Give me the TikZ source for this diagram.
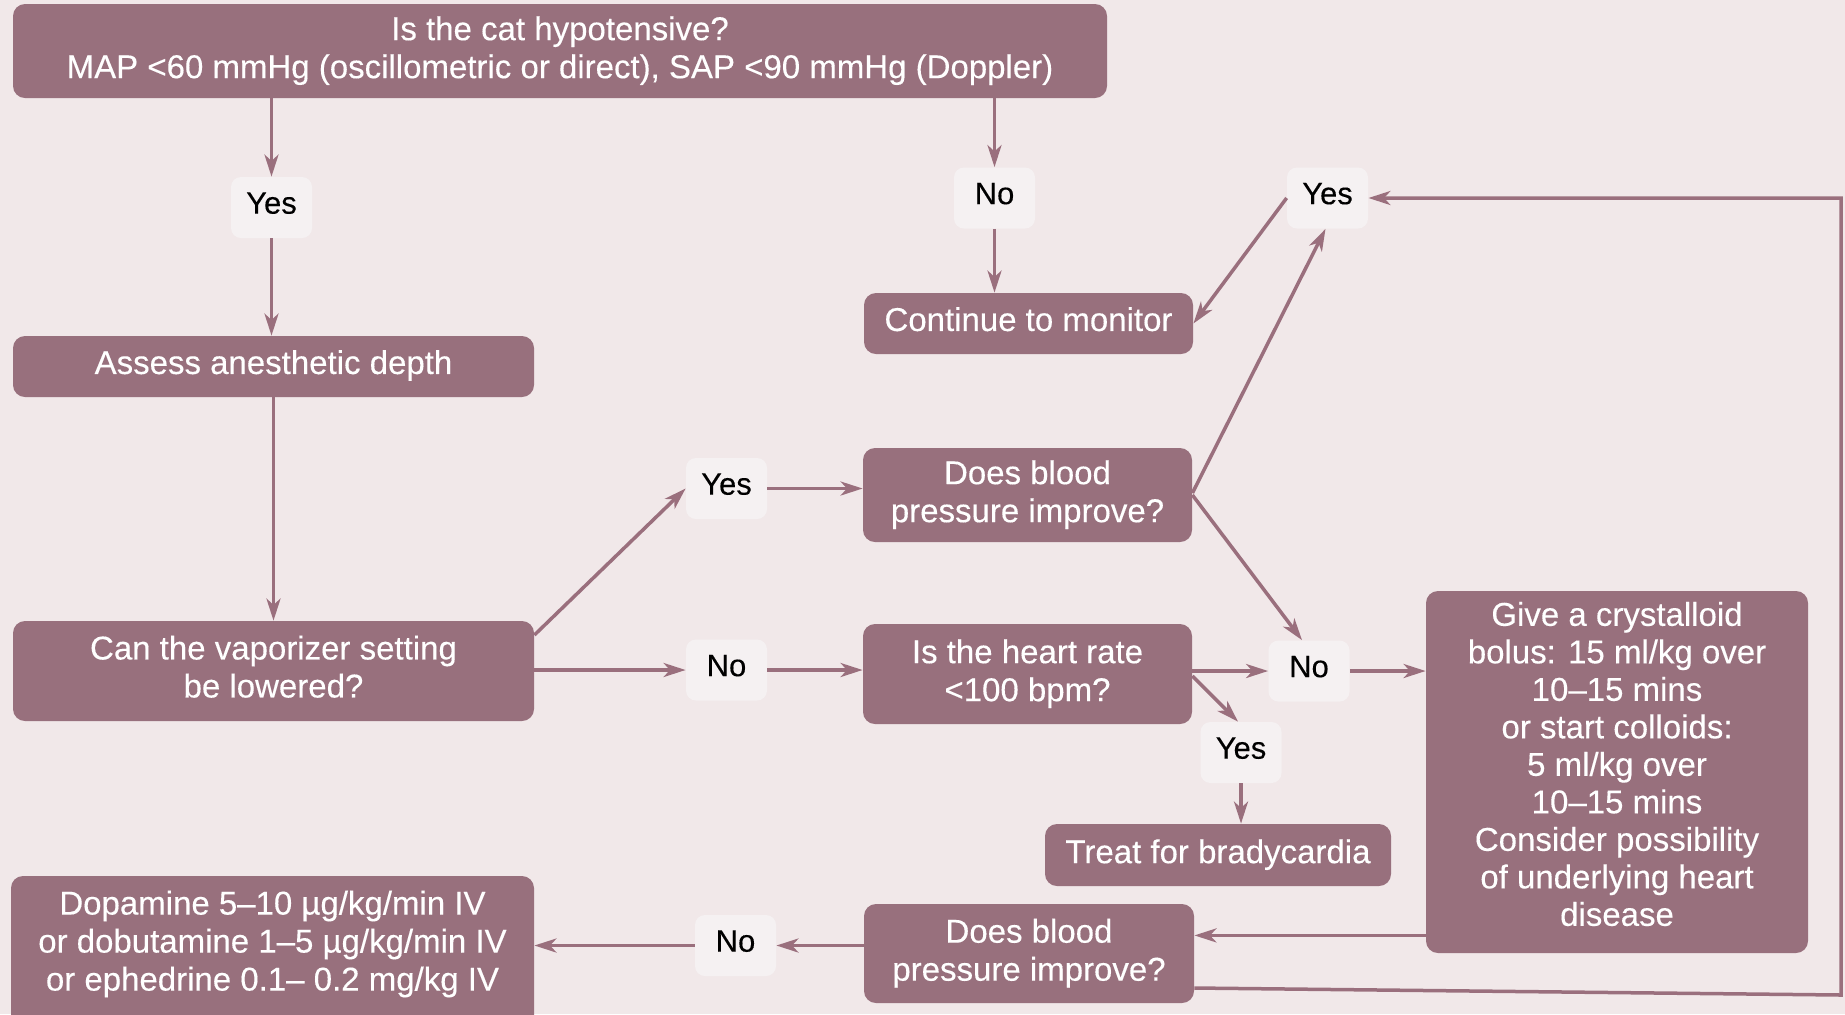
\documentclass[tikz,border=0pt]{standalone}
\usepackage{fontspec}
\newfontfamily\lsans[BoldFont=Liberation Sans, BoldFeatures={FakeBold=0.25}]{Liberation Sans}
\newcommand{\lsf}{\lsans\bfseries}
\usetikzlibrary{arrows.meta,calc}
\definecolor{boxc}{RGB}{152,112,125}
\definecolor{bgc}{RGB}{241,232,233}
\definecolor{labc}{RGB}{245,241,242}
\definecolor{linec}{RGB}{154,111,125}
\begin{document}
\begin{tikzpicture}[x=0.5pt,y=-0.5pt,
  box/.style={fill=boxc, rounded corners=6pt, text=white, align=center,
    font=\fontsize{16.5pt}{19pt}\selectfont\lsf, inner sep=0pt, text depth=4.5pt},
  box2/.style={box, text depth=3.8pt},
  lab/.style={fill=labc, rounded corners=5pt, text=black,
    font=\fontsize{15.5pt}{18pt}\selectfont\lsf, inner sep=0pt, text depth=4.5pt,
    minimum width=40.5pt, minimum height=30.5pt},
  conn/.style={draw=linec, line width=1.75pt,
    -{Stealth[length=11pt,width=7pt,inset=3.2pt]}}]
\fill[bgc] (0,0) rectangle (1845,1014);
\useasboundingbox (0,0) rectangle (1845,1014);
% boxes
\node[box2, minimum width=547pt, minimum height=47pt] (top) at (560,51)
  {Is the cat hypotensive?\\MAP <60 mmHg (oscillometric or direct), SAP <90 mmHg (Doppler)};
\node[lab] (yes1) at (271.5,207.5) {Yes};
\node[lab] (no1) at (994.5,198) {No};
\node[box, minimum width=164.5pt, minimum height=30.5pt] (cont) at (1028.5,323.5) {Continue to monitor};
\node[lab] (yes2) at (1327.5,198) {Yes};
\node[box, minimum width=260.5pt, minimum height=30.5pt] (assess) at (273.5,366.5) {Assess anesthetic depth};
\node[box, minimum width=260.5pt, minimum height=50pt] (vap) at (273.5,671) {Can the vaporizer setting\\be lowered?};
\node[lab] (yes3) at (726.5,488.5) {Yes};
\node[box2, minimum width=164.5pt, minimum height=47pt] (dbp1) at (1027.5,495) {Does blood\\pressure improve?};
\node[lab] (no3) at (726.5,670) {No};
\node[box2, minimum width=164.5pt, minimum height=50pt] (heart) at (1027.5,674) {Is the heart rate\\<100 bpm?};
\node[lab] (no4) at (1309,671) {No};
\node[lab] (yes4) at (1241,752.5) {Yes};
\node[box2, minimum width=173pt, minimum height=31pt] (treat) at (1218,855) {Treat for bradycardia};
\node[box, minimum width=191pt, minimum height=181pt] (cryst) at (1617,772) {};
\node[text=white, align=center, font=\fontsize{16.5pt}{18.75pt}\selectfont\lsf, inner sep=0pt] (crysttext) at (1617,764)
  {Give a crystalloid\\bolus: 15 ml/kg over\\10–15 mins\\or start colloids:\\5 ml/kg over\\10–15 mins\\Consider possibility\\of underlying heart\\disease};
\node[box2, minimum width=165pt, minimum height=49.5pt] (dbp2) at (1029,953.5) {Does blood\\pressure improve?};
\node[lab] (no5) at (735.5,945.5) {No};
\fill[boxc, rounded corners=6pt] (11,876) rectangle (534,1040);
\node[text=white, align=center, font=\fontsize{16.5pt}{19pt}\selectfont\lsf, inner sep=0pt,
  minimum width=261.5pt] (dop) at (272.5,944)
  {Dopamine 5–10 µg/kg/min IV\\or dobutamine 1–5 µg/kg/min IV\\or ephedrine 0.1– 0.2 mg/kg IV};
% connectors
\draw[conn] (top.south -| yes1.north) -- (yes1.north);
\draw[conn] (yes1.south) -- (assess.north -| yes1.south);
\draw[conn] (top.south -| no1.north) -- (no1.north);
\draw[conn] (no1.south) -- (cont.north -| no1.south);
\draw[conn] (assess.south) -- (vap.north);
\draw[conn] ($(vap.east)+(0,-36)$) -- (yes3.west);
\draw[conn] (vap.east |- no3.west) -- (no3.west);
\draw[conn] (yes3.east) -- (dbp1.west |- yes3.east);
\draw[conn] (no3.east) -- (heart.west |- no3.east);
\draw[conn] ($(dbp1.east)+(0,-2)$) -- ($(yes2.south)+(-2,0)$);
\draw[conn] (yes2.west) -- (cont.east);
\draw[conn] (dbp1.east) -- ($(no4.north)+(-7,0)$);
\draw[conn] (heart.east |- no4.west) -- (no4.west);
\draw[conn] ($(heart.east)+(0,2)$) -- ($(yes4.north)+(-3,0)$);
\draw[conn] (no4.east) -- (cryst.west |- no4.east);
\draw[conn] (yes4.south) -- (yes4.south |- treat.north);
\coordinate (cout) at ($(cryst.south west)+(0,-18)$);
\draw[conn] (cout) -- (dbp2.east |- cout);
\coordinate (lr) at (1841,995);
\coordinate (ur) at (1841,198);
\draw[conn] ($(dbp2.east)+(0,34.5)$) -- (lr) -- (ur) -- (yes2.east);
\draw[conn] (dbp2.west |- no5.east) -- (no5.east);
\draw[conn] (no5.west) -- (dop.east |- no5.west);
\end{tikzpicture}
\end{document}
